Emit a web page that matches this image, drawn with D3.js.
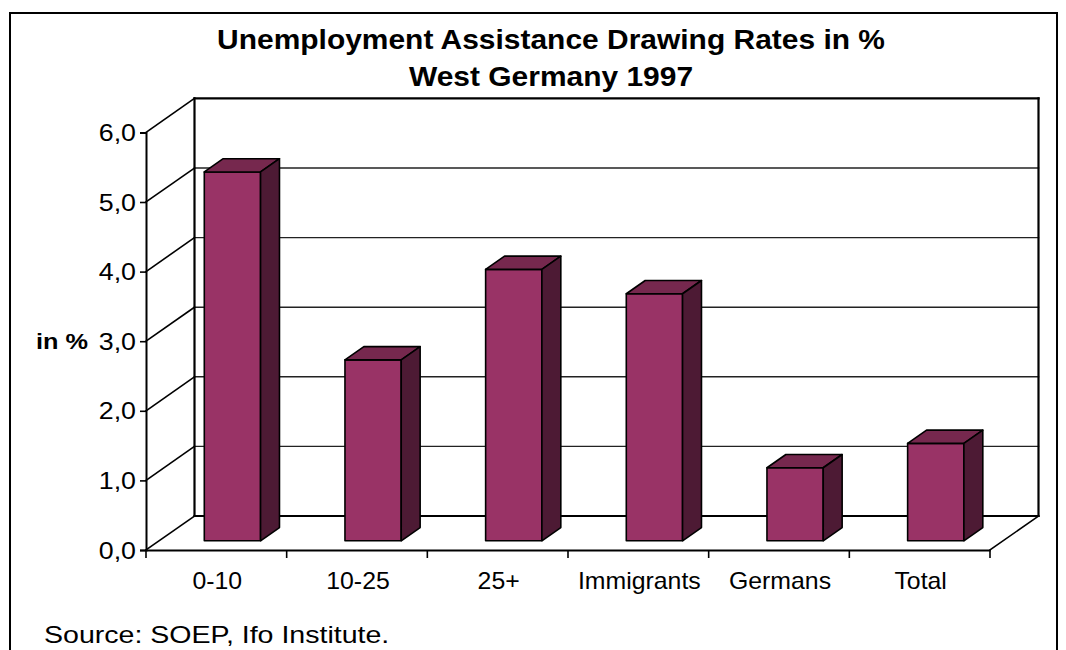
<!DOCTYPE html>
<html>
<head>
<meta charset="utf-8">
<script src="https://cdn.jsdelivr.net/npm/d3@7"></script>
<style>
  html, body { margin: 0; padding: 0; background: #fff; }
  svg { display: block; }
  text { font-family: "Liberation Sans", Arial, sans-serif; fill: #000; }
</style>
</head>
<body>
<svg id="chart" width="1066" height="650"></svg>
<script>
// Unemployment assistance drawing rates, West Germany 1997
const categories = ["0-10", "10-25", "25+", "Immigrants", "Germans", "Total"];
const rates = [5.3, 2.6, 3.9, 3.55, 1.05, 1.4];
const yTicks = [0, 1, 2, 3, 4, 5, 6];
const titleLines = ["Unemployment Assistance Drawing Rates in %", "West Germany 1997"];
const yAxisTitle = "in %";
const sourceNote = "Source: SOEP, Ifo Institute.";

const svg = d3.select("#chart");

// Front plane of the 3D box and the oblique depth offset
const plot = { left: 146, right: 990, base: 550, unit: 69.6 };
const DX = 48.5, DY = -34;

const x = d3.scaleBand().domain(categories).range([plot.left, plot.right]).padding(0);
const y = d3.scaleLinear().domain([0, 6]).range([plot.base, plot.base - 6 * plot.unit]);

const proj = (px, v, z) => [px + z * DX, y(v) + z * DY];
const fmt = d3.formatLocale({ decimal: ",", thousands: ".", grouping: [3], currency: ["", "€"] }).format(".1f");

const ink = "#000";

// outer frame
svg.append("rect")
  .attr("x", 10).attr("y", 13).attr("width", 1047).attr("height", 700)
  .attr("fill", "none").attr("stroke", ink).attr("stroke-width", 2);

const walls = svg.append("g").attr("fill", "none").attr("stroke-linecap", "square");

// back wall gridlines
yTicks.forEach(v => {
  const a = proj(plot.left, v, 1), b = proj(plot.right, v, 1);
  const edge = (v === 0 || v === 6);
  walls.append("line")
    .attr("x1", a[0]).attr("y1", a[1]).attr("x2", b[0]).attr("y2", b[1])
    .attr("stroke", edge ? ink : "#222").attr("stroke-width", edge ? 2.2 : 1.4);
});
// back wall verticals
[plot.left, plot.right].forEach(px => {
  const a = proj(px, 0, 1), b = proj(px, 6, 1);
  walls.append("line")
    .attr("x1", a[0]).attr("y1", a[1]).attr("x2", b[0]).attr("y2", b[1])
    .attr("stroke", ink).attr("stroke-width", 2.2);
});
// left side wall diagonals
yTicks.forEach(v => {
  const a = proj(plot.left, v, 0), b = proj(plot.left, v, 1);
  walls.append("line")
    .attr("x1", a[0]).attr("y1", a[1]).attr("x2", b[0]).attr("y2", b[1])
    .attr("stroke", ink).attr("stroke-width", 1.6);
});
// floor right edge
{
  const a = proj(plot.right, 0, 0), b = proj(plot.right, 0, 1);
  walls.append("line")
    .attr("x1", a[0]).attr("y1", a[1]).attr("x2", b[0]).attr("y2", b[1])
    .attr("stroke", ink).attr("stroke-width", 1.6);
}

// front value axis
const yAxis = d3.axisLeft(y).tickValues(yTicks).tickSize(6).tickFormat(fmt).tickPadding(4);
const gy = svg.append("g").attr("transform", `translate(${plot.left},0)`).call(yAxis);
gy.select(".domain").attr("stroke", ink).attr("stroke-width", 2);
gy.selectAll(".tick line").attr("stroke", ink).attr("stroke-width", 1.6);
gy.selectAll(".tick text").remove();
gy.selectAll(".tick").append("text")
  .attr("text-anchor", "end")
  .attr("transform", "translate(-10,8) scale(1.14,1)")
  .style("font-size", "23.5px")
  .text(d => fmt(d));

// front category axis
const xAxis = d3.axisBottom(x).tickSize(0).tickFormat("");
const gx = svg.append("g").attr("transform", `translate(0,${plot.base})`).call(xAxis);
gx.select(".domain").attr("stroke", ink).attr("stroke-width", 2);
gx.selectAll(".tick").remove();
const boundaries = categories.map(c => x(c)).concat([plot.right]);
gx.selectAll("line.sep").data(boundaries).join("line").attr("class", "sep")
  .attr("x1", d => d).attr("x2", d => d).attr("y1", 0).attr("y2", 8)
  .attr("stroke", ink).attr("stroke-width", 1.6);
gx.selectAll("text.cat").data(categories).join("text").attr("class", "cat")
  .attr("text-anchor", "middle")
  .attr("transform", d => `translate(${x(d) + x.bandwidth() / 2 + 1},39) scale(1.08,1)`)
  .style("font-size", "23px")
  .text(d => d);

// 3D columns
const barW = x.bandwidth() * 0.4;
const zF = 0.27, zB = 0.66;
const bars = svg.append("g").attr("stroke", ink).attr("stroke-width", 1.6).attr("stroke-linejoin", "round");
categories.forEach((c, i) => {
  const v = rates[i];
  const x0 = x(c) + (x.bandwidth() - barW) / 2 + 3, x1 = x0 + barW;
  const poly = pts => pts.map(p => p.join(",")).join(" ");
  bars.append("polygon").attr("fill", "#993366")
    .attr("points", poly([proj(x0, 0, zF), proj(x1, 0, zF), proj(x1, v, zF), proj(x0, v, zF)]));
  bars.append("polygon").attr("fill", "#76284e")
    .attr("points", poly([proj(x0, v, zF), proj(x1, v, zF), proj(x1, v, zB), proj(x0, v, zB)]));
  bars.append("polygon").attr("fill", "#4d1a34")
    .attr("points", poly([proj(x1, 0, zF), proj(x1, 0, zB), proj(x1, v, zB), proj(x1, v, zF)]));
});

// titles
svg.selectAll("text.title").data(titleLines).join("text").attr("class", "title")
  .attr("text-anchor", "middle")
  .attr("transform", (d, i) => `translate(551,${49 + i * 37}) scale(1.07,1)`)
  .style("font-size", "28px").style("font-weight", "bold")
  .text(d => d);

svg.append("text")
  .attr("transform", `translate(36,${y(3) + 8}) scale(1.15,1)`)
  .style("font-size", "22px").style("font-weight", "bold")
  .text(yAxisTitle);

svg.append("text")
  .attr("transform", "translate(44,643) scale(1.19,1)")
  .style("font-size", "24px")
  .text(sourceNote);
</script>
</body>
</html>
